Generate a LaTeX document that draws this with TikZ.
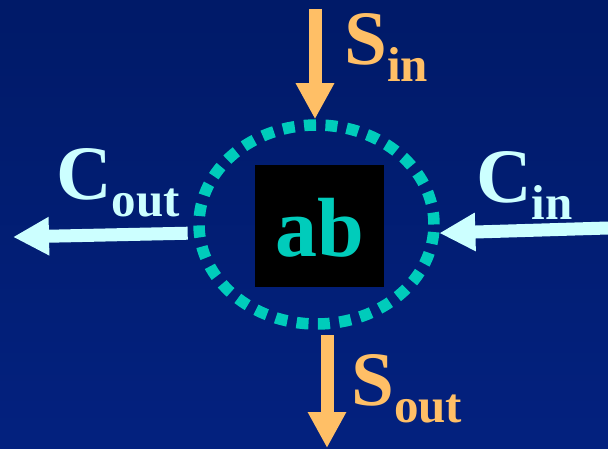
\documentclass[tikz,border=0pt]{standalone}
\usepackage{fontspec}
\setmainfont{Liberation Serif}
\usepackage{tikz}
\usetikzlibrary{arrows.meta,calc,positioning,shapes.geometric}
\definecolor{slidetop}{HTML}{001A68}
\definecolor{slidebottom}{HTML}{03217F}
\definecolor{ringteal}{HTML}{00CCBB}
\definecolor{sumorange}{HTML}{FFBF66}
\definecolor{carrycyan}{HTML}{CCFFFF}
\newcommand{\flowlabel}[2]{#1\raisebox{-17pt}{\fontsize{49}{49}\selectfont #2}}
\tikzset{
  ring/.style       = {ellipse, draw=ringteal, line width=11.5pt,
                       dash pattern=on 12pt off 9.4pt,
                       minimum width=235pt, minimum height=199pt, inner sep=0pt},
  core box/.style   = {fill=black, minimum width=129pt, minimum height=122pt,
                       inner sep=0pt, text=ringteal,
                       font=\fontsize{84}{84}\selectfont\bfseries},
  flow/.style       = {line width=13pt, -{Triangle[length=36pt,width=36pt]}},
  sum flow/.style   = {flow, sumorange},
  carry flow/.style = {flow, carrycyan},
  flow label/.style = {anchor=base west, inner sep=0pt,
                       font=\fontsize{77}{77}\selectfont\bfseries},
}
\begin{document}
\begin{tikzpicture}[x=1pt, y=-1pt]
    \fill[top color=slidetop, bottom color=slidebottom] (0,0) rectangle (608,449);
    \useasboundingbox (0,0) rectangle (608,449);
    \node[ring] (ring) at (316.5,224.5) {};
    \node[core box, text depth=0pt] (ab) at (319.5,226) {\raisebox{-2pt}{ab}};
    \coordinate (sin) at (315,9);
    \coordinate (sout) at (327,448);
    \coordinate (cin) at (608,228);
    \coordinate (cout) at (13,237);
    \draw[sum flow] (sin) -- (sin |- ring.north);
    \draw[sum flow, shorten <=5.5pt] (sout |- ring.south) -- (sout);
    \draw[carry flow] (cin) -- (ring.-4);
    \draw[carry flow, shorten <=6pt] (ring.184) -- (cout);
    \node[flow label, text=sumorange] (sin label) at (344,65) {\flowlabel{S}{in}};
    \node[flow label, text=sumorange] (sout label) at (351,405) {\flowlabel{S}{out}};
    \node[flow label, text=carrycyan] (cin label) at (476,203) {\flowlabel{C}{in}};
    \node[flow label, text=carrycyan] (cout label) at (56,200) {\flowlabel{C}{out}};
\end{tikzpicture}
\end{document}
